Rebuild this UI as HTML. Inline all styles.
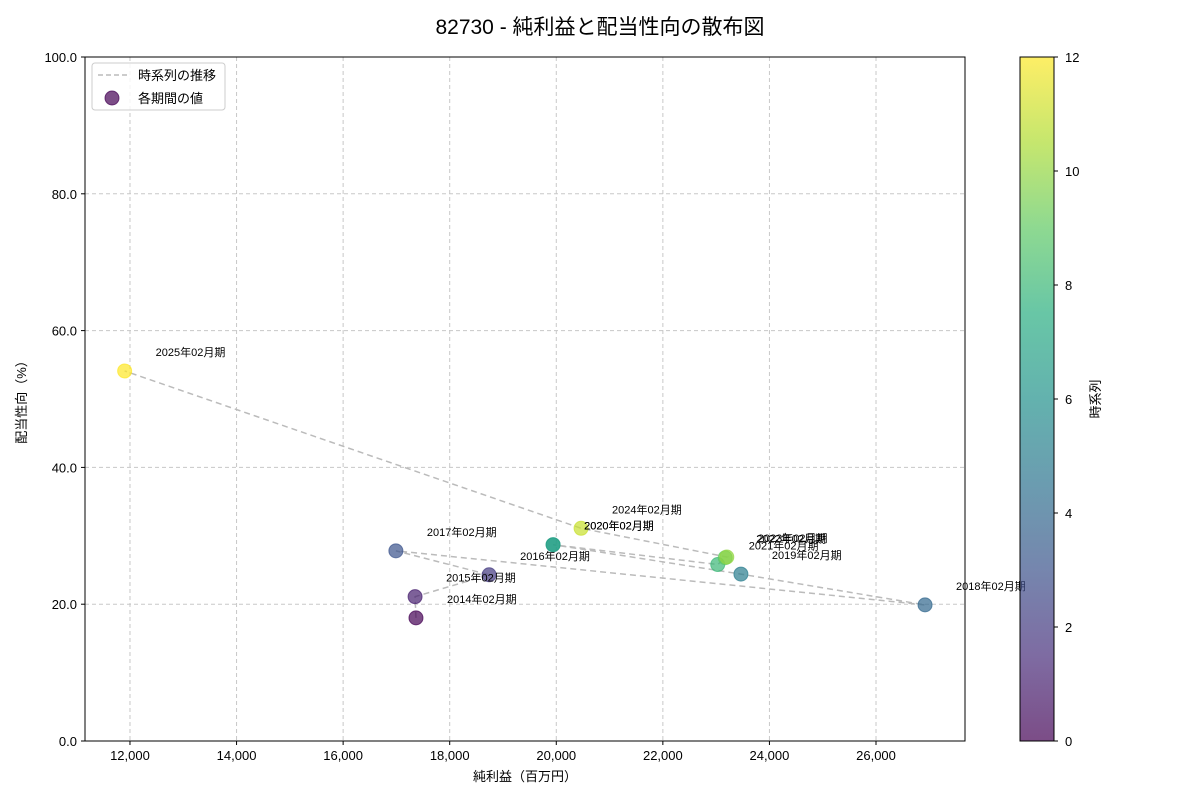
<!DOCTYPE html>
<html><head><meta charset="utf-8">
<style>
body{margin:0;background:#fff;font-family:"Liberation Sans","Noto Sans CJK JP",sans-serif;}
svg text{font-family:"Liberation Sans","Noto Sans CJK JP",sans-serif;}
</style></head>
<body>
<svg id="chart" width="1200" height="800" xmlns="http://www.w3.org/2000/svg">
<defs>
<linearGradient id="vir" x1="0" y1="1" x2="0" y2="0">
<stop offset="0" stop-color="#440154"/><stop offset="0.125" stop-color="#472d7b"/><stop offset="0.25" stop-color="#3b528b"/><stop offset="0.375" stop-color="#2c728e"/><stop offset="0.5" stop-color="#21918c"/><stop offset="0.625" stop-color="#28ae80"/><stop offset="0.75" stop-color="#5ec962"/><stop offset="0.875" stop-color="#addc30"/><stop offset="1" stop-color="#fde725"/>
</linearGradient>
</defs>
<text x="600" y="34" font-size="21" text-anchor="middle">82730 - 純利益と配当性向の散布図</text>
<g id="grid"></g>
<g id="axes"></g>
<g id="marks"></g>
<rect x="85" y="57" width="880" height="684" fill="none" stroke="#000" stroke-width="1"/>
<text x="525" y="781" font-size="13" text-anchor="middle">純利益（百万円）</text>
<text transform="translate(26,399) rotate(-90)" font-size="13" text-anchor="middle">配当性向（%）</text>
<g>
<rect x="92" y="63" width="133" height="47" fill="#fff" fill-opacity="0.8" stroke="#ccc" rx="3"/>
<line x1="98" y1="75" x2="128" y2="75" stroke="#bbb" stroke-width="1.5" stroke-dasharray="5,3"/>
<text x="138" y="80" font-size="13">時系列の推移</text>
<circle cx="112" cy="98" r="7" fill="#440154" fill-opacity="0.7" stroke="#440154" stroke-opacity="0.7"/>
<text x="138" y="103" font-size="13">各期間の値</text>
</g>
<rect x="1020" y="57" width="34" height="684" fill="url(#vir)" fill-opacity="0.7" stroke="#000" stroke-width="1"/>
<g id="cbticks"></g>
<text transform="translate(1100,399) rotate(-90)" font-size="13" text-anchor="middle">時系列</text>
</svg>
<script>
const netIncome=[17367,17350,18740,16990,26920,23465,19940,19940,23030,23170,23200,20465,11900];
const payoutRatio=[18.0,21.1,24.3,27.8,19.9,24.4,28.7,28.7,25.8,26.8,26.9,31.1,54.1];
const periodLabels=["2014年02月期","2015年02月期","2016年02月期","2017年02月期","2018年02月期","2019年02月期","2020年02月期","2020年02月期","2021年02月期","2022年02月期","2023年02月期","2024年02月期","2025年02月期"];
const xTicks=[12000,14000,16000,18000,20000,22000,24000,26000];
const yTicks=[0,20,40,60,80,100];
const cTicks=[0,2,4,6,8,10,12];
const NS="http://www.w3.org/2000/svg";
const X0=85,X1=965,Y0=57,Y1=741;
const xMin=11156,xMax=27670;
function sx(v){return X0+(v-xMin)/(xMax-xMin)*(X1-X0);}
function sy(v){return Y1-(v/100)*(Y1-Y0);}
function cy(v){return 741-v/12*684;}
const vir=[[68,1,84],[71,45,123],[59,82,139],[44,114,142],[33,145,140],[40,174,128],[94,201,98],[173,220,48],[253,231,37]];
function vcol(t){const p=t*8,i=Math.min(7,Math.floor(p)),f=p-i;const a=vir[i],b=vir[i+1];return `rgb(${a.map((c,k)=>Math.round(c+(b[k]-c)*f)).join(',')})`;}
function mk(tag,attrs,parent){const e=document.createElementNS(NS,tag);for(const k in attrs)e.setAttribute(k,attrs[k]);parent.appendChild(e);return e;}
const grid=document.getElementById('grid'),axes=document.getElementById('axes'),marks=document.getElementById('marks'),cb=document.getElementById('cbticks');
xTicks.forEach(v=>{const x=sx(v);
const g=mk('line',{x1:x,x2:x,y1:Y0,y2:Y1,stroke:'#c8c8c8','stroke-dasharray':'4,3'},grid);


mk('line',{x1:x,x2:x,y1:Y1,y2:Y1+4,stroke:'#000'},axes);
const t=mk('text',{x:x,y:Y1+19,'font-size':13,'text-anchor':'middle'},axes);t.textContent=v.toLocaleString('en-US');

});
yTicks.forEach(v=>{const y=sy(v);
const g=mk('line',{x1:X0,x2:X1,y1:y,y2:y,stroke:'#c8c8c8','stroke-dasharray':'4,3'},grid);


mk('line',{x1:X0-4,x2:X0,y1:y,y2:y,stroke:'#000'},axes);
const t=mk('text',{x:X0-8,y:y+5,'font-size':13,'text-anchor':'end'},axes);t.textContent=v.toFixed(1);

});
cTicks.forEach(v=>{const y=cy(v);
mk('line',{x1:1054,x2:1058,y1:y,y2:y,stroke:'#000'},cb);
const t=mk('text',{x:1065,y:y+5,'font-size':13},cb);t.textContent=v;

});
const pts=netIncome.map((v,i)=>sx(v)+','+sy(payoutRatio[i])).join(' ');
const pl=mk('polyline',{points:pts,fill:'none',stroke:'#bbb','stroke-width':1.5,'stroke-dasharray':'6,4'},marks);


const n=netIncome.length;
netIncome.forEach((v,i)=>{const c=vcol(i/(n-1));
const p=mk('circle',{cx:sx(v),cy:sy(payoutRatio[i]),r:7,fill:c,'fill-opacity':0.7,stroke:c,'stroke-opacity':0.7},marks);

});
netIncome.forEach((v,i)=>{
const t=mk('text',{x:sx(v)+31,y:sy(payoutRatio[i])-15,'font-size':11},marks);t.textContent=periodLabels[i];

});
</script>
</body></html>
